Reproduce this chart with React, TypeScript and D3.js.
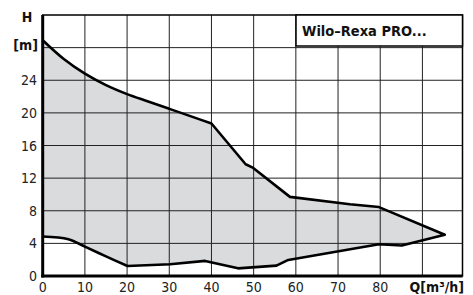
import React from 'react';
import * as d3 from 'd3';

// pump curve envelope, Q [m³/h] vs H [m]
const upperSmooth: [number, number][] = [
  [0, 28.9], [5, 26.6], [10, 24.8], [15, 23.4], [20, 22.3], [25, 21.4], [30, 20.5],
  [35, 19.6], [40, 18.7],
];
const upperRest: [number, number][] = [
  [40, 18.7], [48.1, 13.7], [49.9, 13.25], [58.6, 9.7], [72.8, 8.8],
  [79.7, 8.45], [95.3, 5.05],
];
const lowerRest: [number, number][] = [
  [95.3, 5.05], [85.1, 3.73], [79.7, 3.9], [58.2, 1.97], [55.4, 1.27], [46.3, 0.94],
  [38.5, 1.85], [30.2, 1.44], [20.1, 1.23],
];
const lowerSmooth: [number, number][] = [
  [20.1, 1.23], [15, 2.4], [10, 3.6], [6.1, 4.5], [0, 4.84],
];
const xTicks = [0, 10, 20, 30, 40, 50, 60, 70, 80];
const xGrid = [10, 20, 30, 40, 50, 60, 70, 80, 90];
const yTicks = [0, 4, 8, 12, 16, 20, 24];
const yGrid = [4, 8, 12, 16, 20, 24, 28];
const title = 'Wilo–Rexa PRO...';

const W = 473, H = 295;
const font = "'DejaVu Sans Condensed', 'Liberation Sans Narrow', sans-serif";

export default function App() {
  const x = d3.scaleLinear().domain([0, 99.5]).range([42.7, 462.5]);
  const y = d3.scaleLinear().domain([0, 32]).range([276, 15]);

  const straight = d3.line<[number, number]>().x(d => x(d[0])).y(d => y(d[1]));
  const smooth = d3.line<[number, number]>().x(d => x(d[0])).y(d => y(d[1])).curve(d3.curveCatmullRom);

  const segs = [smooth(upperSmooth), straight(upperRest), straight(lowerRest), smooth(lowerSmooth)] as string[];
  const outlinePath = segs.map((s, i) => (i === 0 ? s : s.replace(/^M/, 'L'))).join('');

  return (
    <div style={{ position: 'absolute', left: 0, top: 0 }}>
      <svg width={W} height={H} style={{ display: 'block', background: '#fff' }}>
        <path d={outlinePath + 'Z'} fill="#d9dbdc" stroke="none" />
        {xGrid.map(v => (
          <line key={'gx' + v} x1={x(v)} x2={x(v)} y1={y(32)} y2={y(0)} stroke="#222" strokeWidth={1} />
        ))}
        {yGrid.map(v => (
          <line key={'gy' + v} x1={x(0)} x2={x(99.5)} y1={y(v)} y2={y(v)} stroke="#222" strokeWidth={1} />
        ))}
        <rect x={x(0)} y={y(32)} width={x(99.5) - x(0)} height={y(0) - y(32)} fill="none" stroke="#000" strokeWidth={1.5} />
        <path d={outlinePath} fill="none" stroke="#000" strokeWidth={2.6} strokeLinejoin="round" />
        <line x1={x(0)} x2={x(0)} y1={y(32)} y2={y(0) + 1.5} stroke="#000" strokeWidth={3} />
        <line x1={x(0) - 1.5} x2={x(99.5)} y1={y(0)} y2={y(0)} stroke="#000" strokeWidth={3} />

        <rect x={296} y={y(32)} width={x(99.5) - 296} height={31} fill="#fff" stroke="#000" strokeWidth={1.5} />
        <text x={302} y={36} fontFamily={font} fontWeight="bold" fontSize={14.5} fill="#111">{title}</text>

        {yTicks.map(v => (
          <text key={'ty' + v} x={37} y={y(v) + 5} textAnchor="end" fontFamily={font} fontSize={14} fill="#222">{v}</text>
        ))}
        {xTicks.map(v => (
          <text key={'tx' + v} x={x(v)} y={292} textAnchor="middle" fontFamily={font} fontSize={14} fill="#222">{v}</text>
        ))}
        <text x={27} y={22} textAnchor="middle" fontFamily={font} fontWeight="bold" fontSize={14} fill="#111">H</text>
        <text x={38} y={50} textAnchor="end" fontFamily={font} fontWeight="bold" fontSize={14} fill="#111">[m]</text>
        <text x={464} y={292} textAnchor="end" fontFamily={font} fontWeight="bold" fontSize={14} fill="#111">Q[m³/h]</text>
      </svg>
    </div>
  );
}
